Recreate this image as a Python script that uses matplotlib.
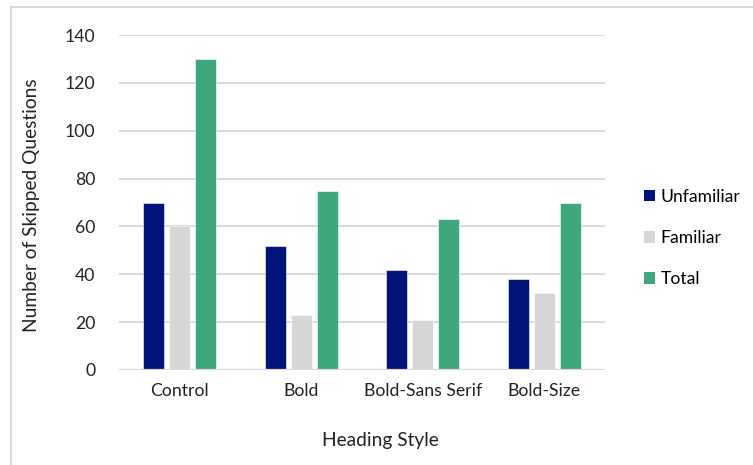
import matplotlib
matplotlib.use("Agg")
import matplotlib.pyplot as plt
from matplotlib.lines import Line2D
from matplotlib.patches import Patch
import numpy as np

plt.rcParams['font.family'] = ['Lato', 'DejaVu Sans']

categories = ["Control", "Bold", "Bold-Sans Serif", "Bold-Size"]
unfamiliar = [70, 52, 42, 38]
familiar = [60, 23, 21, 32]
total = [130, 75, 63, 70]
series_names = ["Unfamiliar", "Familiar", "Total"]
colors = ["#02137A", "#D6D6D6", "#3EA77B"]
yticks = [0, 20, 40, 60, 80, 100, 120, 140]

W, H = 753, 465
fig = plt.figure(figsize=(W / 100, H / 100), dpi=100)
ax = fig.add_axes([119 / W, 1 - 370 / H, (605 - 119) / W, (370 - 35) / H])

x = np.arange(len(categories))
step = 0.214
width = 0.175
for i, (vals, col) in enumerate(zip([unfamiliar, familiar, total], colors)):
    ax.bar(x + (i - 1) * step, vals, width, color=col, edgecolor="white",
           linewidth=0.4, zorder=3, label=series_names[i])

ax.set_xlim(-0.5, len(categories) - 0.5)
ax.set_ylim(0, 140)
ax.set_yticks(yticks)
ax.set_xticks(x)
ax.set_xticklabels(categories)
ax.grid(axis="y", color="#D9D9D9", linewidth=1.4, zorder=0)
ax.tick_params(axis="both", length=0, labelsize=12.7, colors="#222222")
ax.tick_params(axis="y", pad=17)
ax.tick_params(axis="x", pad=9)
for s in ax.spines.values():
    s.set_visible(False)
ax.axhline(0, color="#D9D9D9", linewidth=1.6, zorder=4)

fig.text(32 / W, 1 - 205 / H, "Number of Skipped Questions", rotation=90,
         ha="center", va="center", fontsize=13.8, color="#222222")
fig.text(380 / W, 1 - 440 / H, "Heading Style", ha="center", va="center",
         fontsize=13.8, color="#222222")

handles = [Patch(facecolor=c, edgecolor="none") for c in colors]
fig.legend(handles, series_names, loc="center left",
           bbox_to_anchor=(628 / W, 1 - 238 / H), frameon=False,
           fontsize=12.6, handlelength=0.65, handleheight=0.65,
           handletextpad=0.3, labelspacing=1.45)

# light chart-area border
fig.add_artist(Line2D([10.5 / W, 1.0], [1 - 7.5 / H, 1 - 7.5 / H],
                      transform=fig.transFigure, color="#D9D9D9", linewidth=1.4))
fig.add_artist(Line2D([10.5 / W, 10.5 / W], [0.0, 1 - 7.5 / H],
                      transform=fig.transFigure, color="#D9D9D9", linewidth=1.4))

fig.savefig("out.png", dpi=100, facecolor="white")
